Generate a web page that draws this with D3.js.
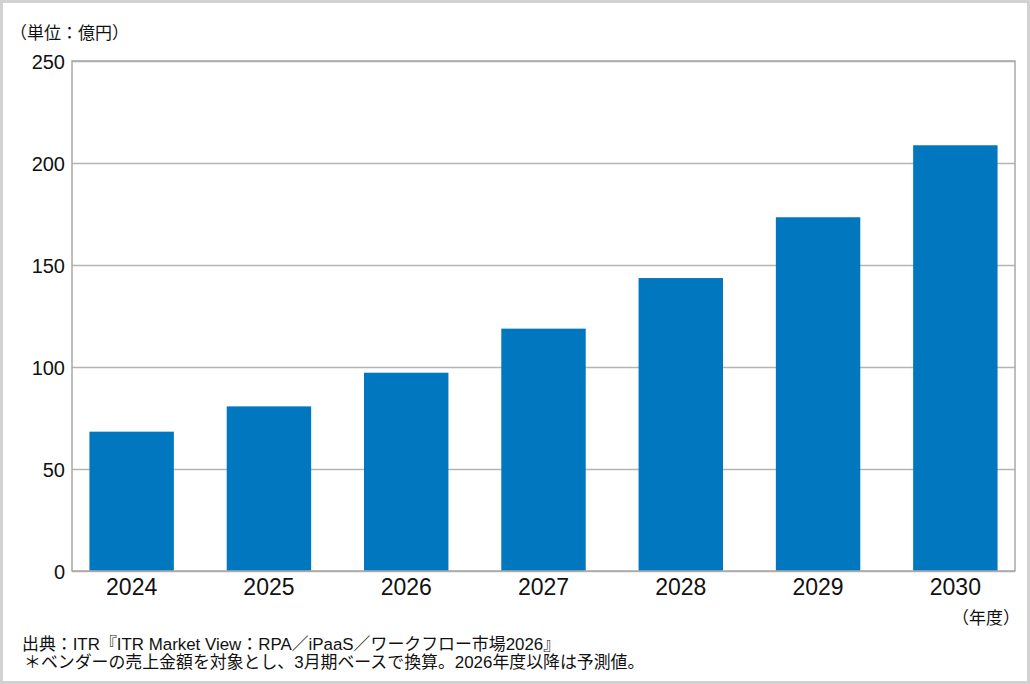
<!DOCTYPE html>
<html lang="ja">
	<head>
		<meta charset="utf-8">
		<title>RPA／iPaaS／ワークフロー市場</title>
		<script src="https://cdn.jsdelivr.net/npm/d3@7"></script>
		<style>
			body{
				margin: 0px;
				overflow: hidden;
				background: #fff;
			}
			svg{
				display: block;
			}
			text{
				font-family: "Liberation Sans", Arial, "Noto Sans CJK JP", sans-serif;
				fill: #111;
			}
			.cjk{
				font-family: "Liberation Sans", "Noto Sans CJK JP", sans-serif;
			}
			.grid line{
				stroke: #b4b4b4;
				stroke-width: 1.5;
			}
			.y-axis text{
				font-size: 20px;
			}
			.x-axis text{
				font-size: 23px;
			}
		</style>
	</head>
	<body>
		<script>
			// data
			const years = ['2024', '2025', '2026', '2027', '2028', '2029', '2030'];
			const sales = [68.3, 80.7, 97.2, 118.8, 143.6, 173.4, 208.7];
			const yTicks = [0, 50, 100, 150, 200, 250];
			const unitLabel = '（単位：億円）';
			const xUnitLabel = '（年度）';
			const notes = [
				'出典：ITR『ITR Market View：RPA／iPaaS／ワークフロー市場2026』',
				'＊ベンダーの売上金額を対象とし、3月期ベースで換算。2026年度以降は予測値。'
			];

			const width = 1030;
			const height = 684;
			const margin = { top: 61, right: 15, bottom: 113, left: 72 };
			const innerWidth = width - margin.left - margin.right;
			const innerHeight = height - margin.top - margin.bottom;

			const svg = d3.select('body').append('svg')
				.attr('width', width)
				.attr('height', height);

			// outer frame (outline only)
			svg.append('path')
				.attr('d', `M1.5,1.5H${width - 1.5}V${height - 1.5}H1.5Z`)
				.attr('fill', 'none')
				.attr('stroke', '#d2d2d2')
				.attr('stroke-width', 3);

			const g = svg.append('g')
				.attr('transform', `translate(${margin.left},${margin.top})`);

			const xScale = d3.scaleBand()
				.domain(years)
				.range([0, innerWidth])
				.paddingInner(0.385)
				.paddingOuter(0.127);

			const yScale = d3.scaleLinear()
				.domain([0, 250])
				.range([innerHeight, 0]);

			// gridlines
			const gridG = g.append('g').attr('class', 'grid')
				.call(d3.axisLeft(yScale).tickValues(yTicks).tickSize(-innerWidth).tickFormat(''));
			gridG.selectAll('.domain').remove();
			gridG.selectAll('text').remove();

			// bars
			g.selectAll('rect.bar')
				.data(sales)
				.enter()
				.append('rect')
				.attr('class', 'bar')
				.attr('x', (d, i) => xScale(years[i]))
				.attr('y', d => yScale(d))
				.attr('width', xScale.bandwidth())
				.attr('height', d => innerHeight - yScale(d))
				.attr('fill', '#0077bf');

			// plot frame
			g.append('rect')
				.attr('width', innerWidth)
				.attr('height', innerHeight)
				.attr('fill', 'none')
				.attr('stroke', '#a8a8a8')
				.attr('stroke-width', 1.5);

			const yAxisG = g.append('g').attr('class', 'y-axis')
				.call(d3.axisLeft(yScale).tickValues(yTicks).tickSize(0).tickPadding(7));
			yAxisG.selectAll('.domain').remove();
			yAxisG.selectAll('text').attr('dy', '0.36em');

			const xAxisG = g.append('g').attr('class', 'x-axis')
				.attr('transform', `translate(0,${innerHeight})`)
				.call(d3.axisBottom(xScale).tickSize(0).tickPadding(8));
			xAxisG.selectAll('.domain').remove();

			svg.append('text')
				.attr('class', 'cjk')
				.attr('x', 10)
				.attr('y', 39)
				.attr('font-size', 17)
				.text(unitLabel);

			svg.append('text')
				.attr('class', 'cjk')
				.attr('x', 1020)
				.attr('y', 624)
				.attr('text-anchor', 'end')
				.attr('font-size', 17)
				.text(xUnitLabel);

			svg.selectAll('text.note')
				.data(notes)
				.enter()
				.append('text')
				.attr('class', 'note cjk')
				.attr('x', (d, i) => i === 0 ? 22 : 24)
				.attr('y', (d, i) => 650 + i * 18)
				.attr('font-size', 16.9)
				.text(d => d);
		</script>
	</body>
</html>
